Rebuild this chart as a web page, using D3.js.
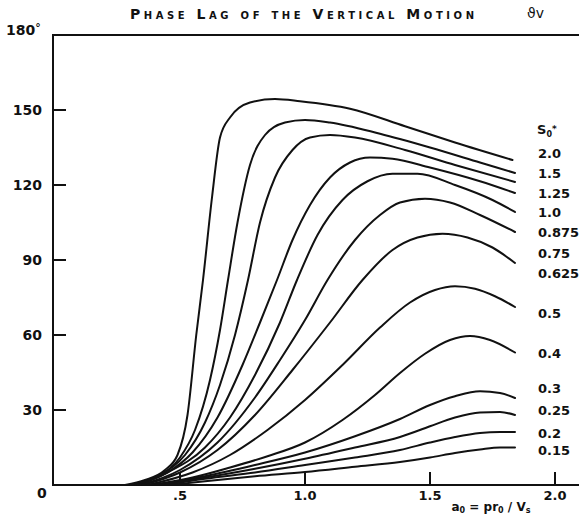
<!DOCTYPE html>
<html>
<head>
<meta charset="utf-8">
<script src="https://cdn.jsdelivr.net/npm/d3@7"></script>
<style>
  html, body { margin: 0; padding: 0; background: #fff; }
  svg { display: block; }
  text { font-family: "DejaVu Sans", "Liberation Sans", sans-serif; font-weight: bold; fill: #111; }
</style>
</head>
<body>
<svg id="chart" width="579" height="514"></svg>
<script>
// Phase lag (degrees) of the vertical motion against the frequency ratio a0 = p r0 / Vs,
// one curve per value of the parameter S0.
const soLabels = ["2.0", "1.5", "1.25", "1.0", "0.875", "0.75", "0.625", "0.5", "0.4", "0.3", "0.25", "0.2", "0.15"];

// [a0, phase lag in degrees]
const lag_2_0 = [[0.28,0],[0.36,2],[0.44,6],[0.49,12],[0.53,28],[0.565,60],[0.592,82],[0.628,115],[0.66,139],[0.70,147],[0.78,153],[0.88,154.4],[0.98,153.5],[1.18,150.5],[1.4,143.5],[1.6,137],[1.83,130]];
const lag_1_5 = [[0.3,0],[0.4,3],[0.5,11],[0.56,22],[0.62,42],[0.66,62],[0.692,82],[0.73,105],[0.78,128],[0.84,140],[0.92,145],[1.0,146],[1.1,145],[1.3,140.5],[1.5,135],[1.7,129],[1.84,124.8]];
const lag_1_25 = [[0.31,0],[0.42,4],[0.52,12],[0.6,25],[0.66,40],[0.72,60],[0.772,82],[0.82,105],[0.88,123],[0.95,134],[1.02,139],[1.1,140],[1.2,139],[1.4,134],[1.6,128],[1.84,121.2]];
const lag_1_0 = [[0.32,0],[0.45,5],[0.55,13],[0.65,27],[0.75,48],[0.82,65],[0.888,82],[0.95,98],[1.02,112],[1.1,123],[1.18,129],[1.26,131],[1.35,130.5],[1.5,127],[1.7,121.5],[1.84,116.8]];
const lag_0_875 = [[0.33,0],[0.45,5],[0.6,15],[0.7,27],[0.8,44],[0.9,65],[0.968,82],[1.05,100],[1.15,114],[1.25,121.5],[1.35,124.5],[1.45,124.5],[1.6,120],[1.75,114],[1.84,109.2]];
const lag_0_75 = [[0.34,0],[0.5,6],[0.65,17],[0.8,35],[0.9,50],[1.0,66],[1.09,82],[1.2,98],[1.3,108],[1.38,113],[1.48,114.5],[1.58,113],[1.7,108],[1.84,101.2]];
const lag_0_625 = [[0.35,0],[0.5,5],[0.65,14],[0.8,28],[0.95,46],[1.1,65],[1.23,82],[1.35,94],[1.45,99],[1.55,100.5],[1.65,99],[1.75,95],[1.84,88.8]];
const lag_0_5 = [[0.37,0],[0.55,5],[0.7,12],[0.85,22],[1.0,34],[1.15,48],[1.3,63],[1.42,73],[1.52,78],[1.6,79.5],[1.68,78.5],[1.76,75.5],[1.84,71.2]];
const lag_0_4 = [[0.38,0],[0.55,3],[0.7,7],[0.85,11.5],[1.0,17],[1.15,26],[1.28,36],[1.38,44.8],[1.48,52.5],[1.58,58],[1.66,59.6],[1.74,58],[1.84,53]];
const lag_0_3 = [[0.4,0],[0.6,3.5],[0.8,8],[1.0,13],[1.2,19.5],[1.38,26.4],[1.5,32],[1.6,35.5],[1.7,37.5],[1.78,36.8],[1.84,34.8]];
const lag_0_25 = [[0.42,0],[0.6,3],[0.8,6.5],[1.0,10.5],[1.2,15],[1.38,19.2],[1.5,23.5],[1.6,27],[1.7,29],[1.78,29.2],[1.84,28]];
const lag_0_2 = [[0.44,0],[0.6,2.5],[0.8,5],[1.0,8],[1.2,11],[1.38,14],[1.5,17],[1.6,19.2],[1.7,20.8],[1.78,21.2],[1.84,21.2]];
const lag_0_15 = [[0.46,0],[0.6,1.5],[0.8,3.5],[1.0,5.2],[1.2,7.3],[1.38,9.2],[1.5,11],[1.6,12.8],[1.7,14.2],[1.78,15],[1.84,15]];

const curves = [lag_2_0, lag_1_5, lag_1_25, lag_1_0, lag_0_875, lag_0_75, lag_0_625,
                lag_0_5, lag_0_4, lag_0_3, lag_0_25, lag_0_2, lag_0_15];

const yTicks = [30, 60, 90, 120, 150];
const xTicks = [0.5, 1.0, 1.5, 2.0];
const xTickLabels = [".5", "1.0", "1.5", "2.0"];

// Layout: vertical position (in degrees) of each S0 label in the right-hand column
const labelRowDeg = [132.8, 124.8, 116.8, 109.2, 101.2, 92.8, 84.8, 68.8, 52.8, 38.8, 30, 20.8, 14];

const svg = d3.select("#chart");
const W = 579;
const x = d3.scaleLinear().domain([0, 2]).range([55, 555]);
const y = d3.scaleLinear().domain([0, 180]).range([485, 35]);
const axisX = 53;

// frame: left axis, base line and the 180° line
const frame = svg.append("g").attr("stroke", "#111").attr("stroke-width", 2).attr("fill", "none");
frame.append("line").attr("x1", axisX).attr("x2", axisX).attr("y1", y(180) - 1).attr("y2", y(0) + 1);
frame.append("line").attr("x1", axisX).attr("x2", W).attr("y1", y(0)).attr("y2", y(0));
frame.append("line").attr("x1", axisX).attr("x2", W).attr("y1", y(180)).attr("y2", y(180));

// y ticks (inward) and labels
frame.selectAll("line.yt").data(yTicks).join("line").attr("class", "yt")
  .attr("x1", axisX).attr("x2", axisX + 13)
  .attr("y1", d => y(d)).attr("y2", d => y(d));
svg.append("g").selectAll("text").data(yTicks).join("text")
  .attr("x", 42).attr("y", d => y(d) + 5)
  .attr("text-anchor", "end").attr("font-size", 14)
  .text(d => d);
const t180 = svg.append("text").attr("x", 6).attr("y", y(180)).attr("font-size", 14);
t180.append("tspan").text("180");
t180.append("tspan").attr("font-size", 11).attr("dy", -4).text("°");
svg.append("text").attr("x", 37).attr("y", 498).attr("font-size", 14).text("0");

// x ticks (inward) and labels
frame.selectAll("line.xt").data(xTicks).join("line").attr("class", "xt")
  .attr("x1", d => x(d)).attr("x2", d => x(d))
  .attr("y1", y(0)).attr("y2", y(0) - 13);
svg.append("g").selectAll("text").data(xTicks).join("text")
  .attr("x", d => x(d)).attr("y", 500)
  .attr("text-anchor", "middle").attr("font-size", 13)
  .text((d, i) => xTickLabels[i]);

// x-axis title: a0 = p r0 / Vs
const xt = svg.append("text").attr("x", 491).attr("y", 511).attr("text-anchor", "middle").attr("font-size", 12);
xt.append("tspan").text("a");
xt.append("tspan").attr("font-size", 8).attr("dy", 2).text("0");
xt.append("tspan").attr("dy", -2).text(" = pr");
xt.append("tspan").attr("font-size", 8).attr("dy", 2).text("0");
xt.append("tspan").attr("dy", -2).text(" / V");
xt.append("tspan").attr("font-size", 8).attr("dy", 2).text("s");

// title and figure tag
svg.append("text").attr("x", 302).attr("y", 19).attr("text-anchor", "middle")
  .attr("font-size", 14).attr("font-variant", "small-caps")
  .style("font-weight", "600").attr("textLength", 344).attr("lengthAdjust", "spacing")
  .text("Phase Lag of the Vertical Motion");
svg.append("text").attr("x", 527).attr("y", 18).attr("font-size", 14).style("font-weight", "normal").text("ϑv");

// curves
const line = d3.line().x(d => x(d[0])).y(d => y(d[1])).curve(d3.curveMonotoneX);
svg.append("g").attr("fill", "none").attr("stroke", "#111").attr("stroke-width", 2)
  .attr("stroke-linecap", "round")
  .selectAll("path").data(curves).join("path").attr("d", line);

// S0 labels
const head = svg.append("text").attr("x", 537).attr("y", 134).attr("font-size", 13);
head.append("tspan").text("S");
head.append("tspan").attr("font-size", 8).attr("dy", 3).text("0");
head.append("tspan").attr("font-size", 9).attr("dy", -5).text("*");
svg.append("g").selectAll("text").data(soLabels).join("text")
  .attr("x", 538).attr("y", (d, i) => y(labelRowDeg[i]) + 5)
  .attr("font-size", 13)
  .text(d => d);
</script>
</body>
</html>
